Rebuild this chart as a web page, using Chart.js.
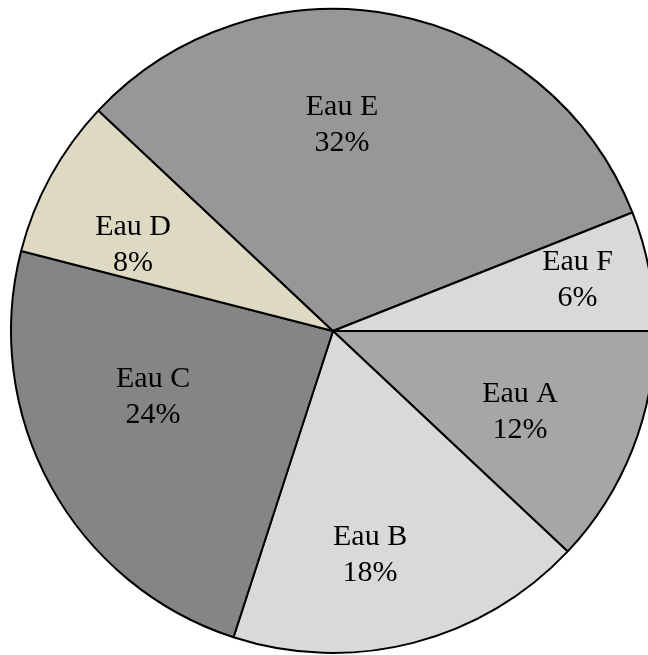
<!DOCTYPE html>
<html>
<head>
<meta charset="utf-8">
<script src="https://cdn.jsdelivr.net/npm/chart.js@4"></script>
<style>
  html, body { margin: 0; padding: 0; background: #ffffff; overflow: hidden; }
  #wrap { position: absolute; left: 0; top: 0; width: 666px; height: 662px; }
</style>
</head>
<body>
<div id="wrap"><canvas id="c" width="666" height="662"></canvas></div>
<script>
const categories = ["Eau A", "Eau B", "Eau C", "Eau D", "Eau E", "Eau F"];
const shares = [12, 18, 24, 8, 32, 6];
const sliceColors = ["#a6a6a6", "#d9d9d9", "#858585", "#ddd9c3", "#979797", "#d9d9d9"];

// label placement relative to each slice: fraction of radius, angle nudge (deg)
const labelRadius = [0.633, 0.705, 0.595, 0.676, 0.64, 0.776];
const labelAngleNudge = [1.8, 5, 8.7, -5.5, -8.3, -1];

const pieLabels = {
  id: 'pieLabels',
  afterDatasetsDraw(chart) {
    const ctx = chart.ctx;
    const meta = chart.getDatasetMeta(0);
    const data = chart.data.datasets[0].data;
    const total = data.reduce((a, b) => a + b, 0);
    ctx.save();
    ctx.fillStyle = '#000000';
    ctx.font = '30px "Liberation Serif", "Times New Roman", serif';
    ctx.textAlign = 'center';
    ctx.textBaseline = 'middle';
    meta.data.forEach((arc, i) => {
      const p = arc.getProps(['x', 'y', 'startAngle', 'endAngle', 'outerRadius'], true);
      const mid = (p.startAngle + p.endAngle) / 2 + labelAngleNudge[i] * Math.PI / 180;
      const r = p.outerRadius * labelRadius[i];
      const cx = p.x + Math.cos(mid) * r;
      const cy = p.y + Math.sin(mid) * r;
      const pct = Math.round(data[i] / total * 100) + '%';
      ctx.fillText(chart.data.labels[i], cx, cy - 18);
      ctx.fillText(pct, cx, cy + 18);
    });
    ctx.restore();
  }
};

new Chart(document.getElementById('c'), {
  type: 'pie',
  data: {
    labels: categories,
    datasets: [{
      data: shares,
      backgroundColor: sliceColors,
      borderColor: '#000000',
      borderWidth: 2
    }]
  },
  options: {
    responsive: false,
    animation: false,
    rotation: 90,
    layout: { padding: { left: 10, right: 10, top: 8, bottom: 8 } },
    plugins: {
      legend: { display: false },
      tooltip: { enabled: false }
    }
  },
  plugins: [pieLabels]
});
</script>
</body>
</html>
